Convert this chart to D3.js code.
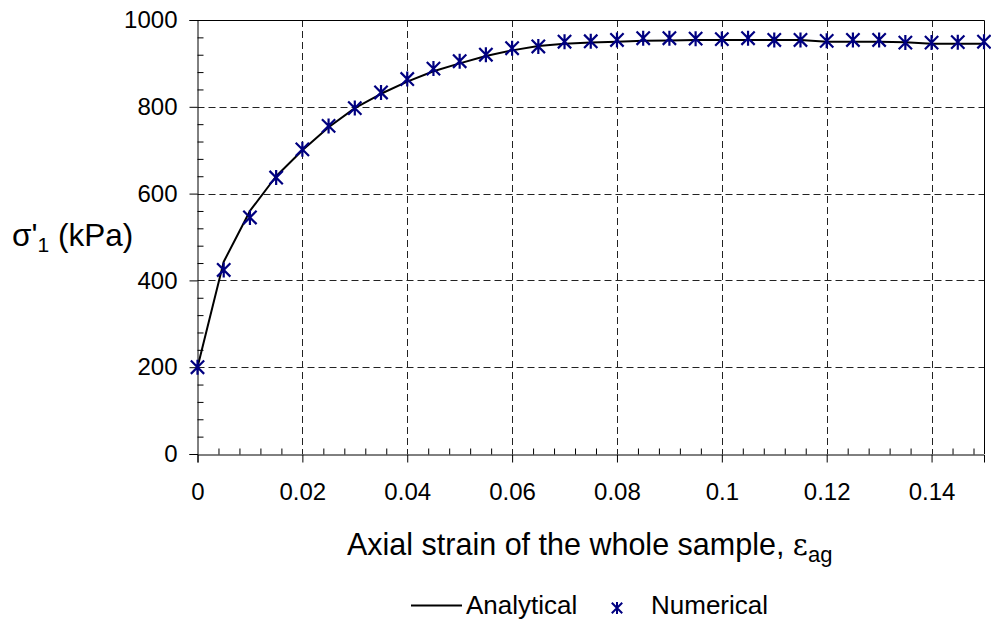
<!DOCTYPE html>
<html>
<head>
<meta charset="utf-8">
<script src="https://cdn.jsdelivr.net/npm/d3@7/dist/d3.min.js"></script>
<style>
  html, body { margin: 0; padding: 0; background: #fff; }
  svg { display: block; font-family: "Liberation Sans", Arial, sans-serif; }
</style>
</head>
<body>
<svg id="chart" width="991" height="623"></svg>
<script>
// Axial strain of the whole sample (every 0.005)
const strain = [0, 0.005, 0.01, 0.015, 0.02, 0.025, 0.03, 0.035, 0.04, 0.045,
  0.05, 0.055, 0.06, 0.065, 0.07, 0.075, 0.08, 0.085, 0.09, 0.095,
  0.1, 0.105, 0.11, 0.115, 0.12, 0.125, 0.13, 0.135, 0.14, 0.145, 0.15];

// Effective axial stress, analytical solution (kPa)
const analytical = [200, 443, 560, 640, 700, 753, 797, 830, 858, 882,
  900, 917, 930, 940, 945, 948, 950, 952, 953, 954,
  954, 954, 954, 954, 950, 950, 950, 949, 945, 945, 945];

// Effective axial stress, numerical model (kPa)
const numerical = [200, 424, 545, 637, 702, 756, 797, 833, 864, 888,
  905, 920, 935, 939, 950, 951, 954, 958, 958, 957,
  956, 958, 954, 954, 952, 954, 954, 948, 948, 949, 950];

const xTicks = [0, 0.02, 0.04, 0.06, 0.08, 0.1, 0.12, 0.14];
const xTickLabels = ["0", "0.02", "0.04", "0.06", "0.08", "0.1", "0.12", "0.14"];
const yTicks = [0, 200, 400, 600, 800, 1000];
const yTickLabels = ["0", "200", "400", "600", "800", "1000"];

const svg = d3.select("#chart");
const plot = { left: 197.5, right: 984, top: 20, bottom: 454 };

const x = d3.scaleLinear().domain([0, 0.15]).range([plot.left, plot.right]);
const y = d3.scaleLinear().domain([0, 1000]).range([plot.bottom, plot.top]);

const xMinor = d3.range(0, 0.1501, 0.004).filter(v => Math.abs(v / 0.02 - Math.round(v / 0.02)) > 1e-6);
const yMinor = d3.range(0, 1001, 40).filter(v => v % 200 !== 0);

// Dashed grid
const grid = svg.append("g").attr("stroke", "#222").attr("stroke-width", 1).attr("stroke-dasharray", "7,4");
grid.selectAll("line.v").data(xTicks.filter(v => v > 0)).join("line")
  .attr("x1", d => Math.round(x(d)) + 0.5).attr("x2", d => Math.round(x(d)) + 0.5)
  .attr("y1", plot.top).attr("y2", plot.bottom);
grid.selectAll("line.h").data(yTicks.filter(v => v > 0 && v < 1000)).join("line")
  .attr("x1", plot.left).attr("x2", plot.right)
  .attr("y1", d => Math.round(y(d)) + 0.5).attr("y2", d => Math.round(y(d)) + 0.5);

// Frame: top and right edges
svg.append("path")
  .attr("d", `M${plot.left},${plot.top + 0.5}H${plot.right + 0.5}V${plot.bottom}`)
  .attr("fill", "none").attr("stroke", "#000").attr("stroke-width", 1);

// X axis
const xAxis = svg.append("g").attr("transform", `translate(0,${plot.bottom + 0.5})`)
  .call(d3.axisBottom(x).tickValues(xTicks).tickSize(8).tickPadding(20)
    .tickFormat((d, i) => xTickLabels[i]));
svg.append("g").attr("transform", `translate(0,${plot.bottom + 0.5})`)
  .call(d3.axisBottom(x).tickValues(xMinor).tickSize(-6).tickFormat(""))
  .call(g => g.select(".domain").remove());

// Y axis
const yAxis = svg.append("g").attr("transform", `translate(${plot.left},0)`)
  .call(d3.axisLeft(y).tickValues(yTicks).tickSize(8).tickPadding(12)
    .tickFormat((d, i) => yTickLabels[i]));
svg.append("g").attr("transform", `translate(${plot.left},0)`)
  .call(d3.axisLeft(y).tickValues(yMinor).tickSize(-6).tickFormat(""))
  .call(g => g.select(".domain").remove());

svg.selectAll(".domain").attr("stroke", "#000");
svg.selectAll(".tick line").attr("stroke", "#000");
[xAxis, yAxis].forEach(a => a.selectAll("text")
  .attr("font-size", 24).attr("fill", "#000")
  .attr("font-family", "'Liberation Sans', Arial, sans-serif"));

// Analytical curve
const line = d3.line().x((d, i) => x(strain[i])).y(d => y(d));
svg.append("path").datum(analytical)
  .attr("d", line).attr("fill", "none")
  .attr("stroke", "#000").attr("stroke-width", 2).attr("stroke-linejoin", "round");

// Star marker (X with vertical bar)
function star(s) {
  const a = s * 0.95;
  return `M${-a},${-a}L${a},${a}M${-a},${a}L${a},${-a}M0,${-s - 0.5}L0,${s + 0.5}`;
}

svg.append("g").selectAll("path").data(numerical).join("path")
  .attr("transform", (d, i) => `translate(${x(strain[i])},${y(d)})`)
  .attr("d", star(7))
  .attr("fill", "none").attr("stroke", "#000080").attr("stroke-width", 2.2);

// Axis titles
const yTitle = svg.append("text").attr("x", 12).attr("y", 246)
  .attr("font-size", 31.5).attr("fill", "#000");
yTitle.append("tspan").text("σ'");
yTitle.append("tspan").attr("font-size", 21).attr("dy", 6).text("1");
yTitle.append("tspan").attr("dy", -6).text(" (kPa)");

const xTitle = svg.append("text").attr("x", 347).attr("y", 555)
  .attr("font-size", 30.5).attr("fill", "#000");
xTitle.append("tspan").text("Axial strain of the whole sample, ");
xTitle.append("tspan").attr("font-family", "'DejaVu Serif', serif").attr("font-size", 29).text("ε");
xTitle.append("tspan").attr("font-size", 22).attr("dy", 7).text("ag");

// Legend
const legend = svg.append("g");
legend.append("line").attr("x1", 411).attr("x2", 462).attr("y1", 605.5).attr("y2", 605.5)
  .attr("stroke", "#000").attr("stroke-width", 2);
legend.append("text").attr("x", 466).attr("y", 614).attr("font-size", 26).attr("fill", "#000")
  .text("Analytical");
legend.append("path").attr("transform", "translate(617,608)").attr("d", star(5.5))
  .attr("fill", "none").attr("stroke", "#000080").attr("stroke-width", 2);
legend.append("text").attr("x", 651).attr("y", 614).attr("font-size", 26).attr("fill", "#000")
  .text("Numerical");
</script>
</body>
</html>
